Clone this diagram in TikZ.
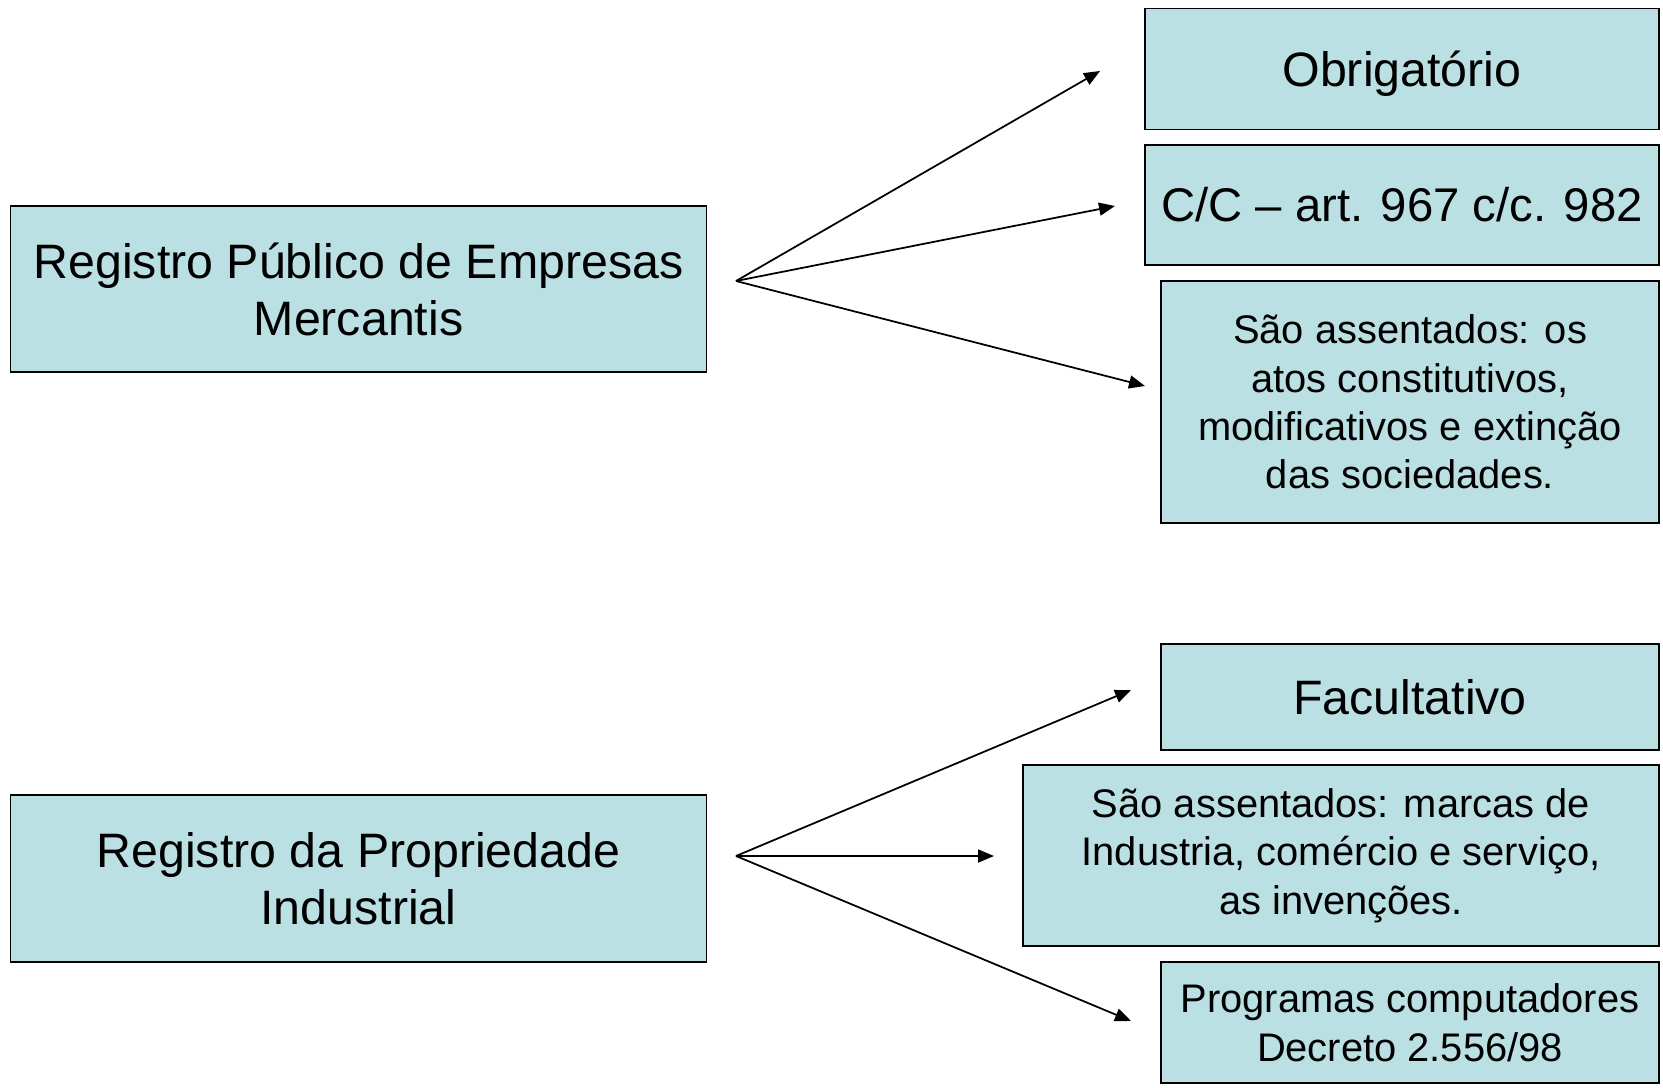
\documentclass[tikz,border=0pt]{standalone}
\usepackage{fontspec}
\setmainfont{Liberation Sans}
\usetikzlibrary{arrows.meta}
\definecolor{caixa}{HTML}{BBE0E3}

\begin{document}
\begin{tikzpicture}[x=0.02cm,y=-0.02cm,
    caixa/.style={draw=black, fill=caixa, line width=0.8pt, inner sep=0pt, align=center},
    grande/.style={font=\fontsize{27.5}{32.4}\selectfont},
    menor/.style={font=\fontsize{22.7}{27.6}\selectfont},
    seta/.style={line width=1pt, -{Triangle[length=0.32cm,width=0.26cm]}}]
      \useasboundingbox (0,0) rectangle (1663,1088);
      % lado esquerdo
      \node[caixa, grande, minimum width=13.92cm, minimum height=3.32cm] (rpe) at (358.5,289) {Registro Público de Empresas\\Mercantis};
      \node[caixa, grande, minimum width=13.92cm, minimum height=3.34cm] (rpi) at (358.5,878.5) {Registro da Propriedade\\Industrial};
      % lado direito, em cima
      \node[caixa, grande, text depth=0pt, minimum width=10.28cm, minimum height=2.42cm] (obr) at (1402,69) {Obrigatório};
      \node[caixa, grande, font=\fontsize{26.9}{32}\selectfont, minimum width=10.28cm, minimum height=2.40cm] (cc) at (1402,205) {C/C – art. 967 c/c. 982};
      \node[caixa, menor, minimum width=9.96cm, minimum height=4.84cm] (atos) at (1410,402) {São assentados: os\\atos constitutivos,\\modificativos e extinção\\das sociedades.};
      % lado direito, em baixo
      \node[caixa, grande, minimum width=9.96cm, minimum height=2.12cm] (fac) at (1410,697) {Facultativo};
      \node[caixa, menor, minimum width=12.72cm, minimum height=3.62cm] (marcas) at (1341,855.5) {São assentados: marcas de\\Industria, comércio e serviço,\\as invenções.};
      \node[caixa, menor, minimum width=9.96cm, minimum height=2.42cm] (prog) at (1410,1022.5) {Programas computadores\\Decreto 2.556/98};
      % pontas das setas
      \coordinate (o1) at (736,281);
      \coordinate (o2) at (736,856);
      \coordinate (p-obr) at (1100,71);
      \coordinate (p-cc) at (1115,206);
      \coordinate (p-atos) at (1145,386);
      \coordinate (p-fac) at (1131,690);
      \coordinate (p-marcas) at (994,856);
      \coordinate (p-prog) at (1131,1021);
      \draw[seta] (o1) -- (p-obr);
      \draw[seta] (o1) -- (p-cc);
      \draw[seta] (o1) -- (p-atos);
      \draw[seta] (o2) -- (p-fac);
      \draw[seta] (o2) -- (p-marcas);
      \draw[seta] (o2) -- (p-prog);
\end{tikzpicture}
\end{document}
